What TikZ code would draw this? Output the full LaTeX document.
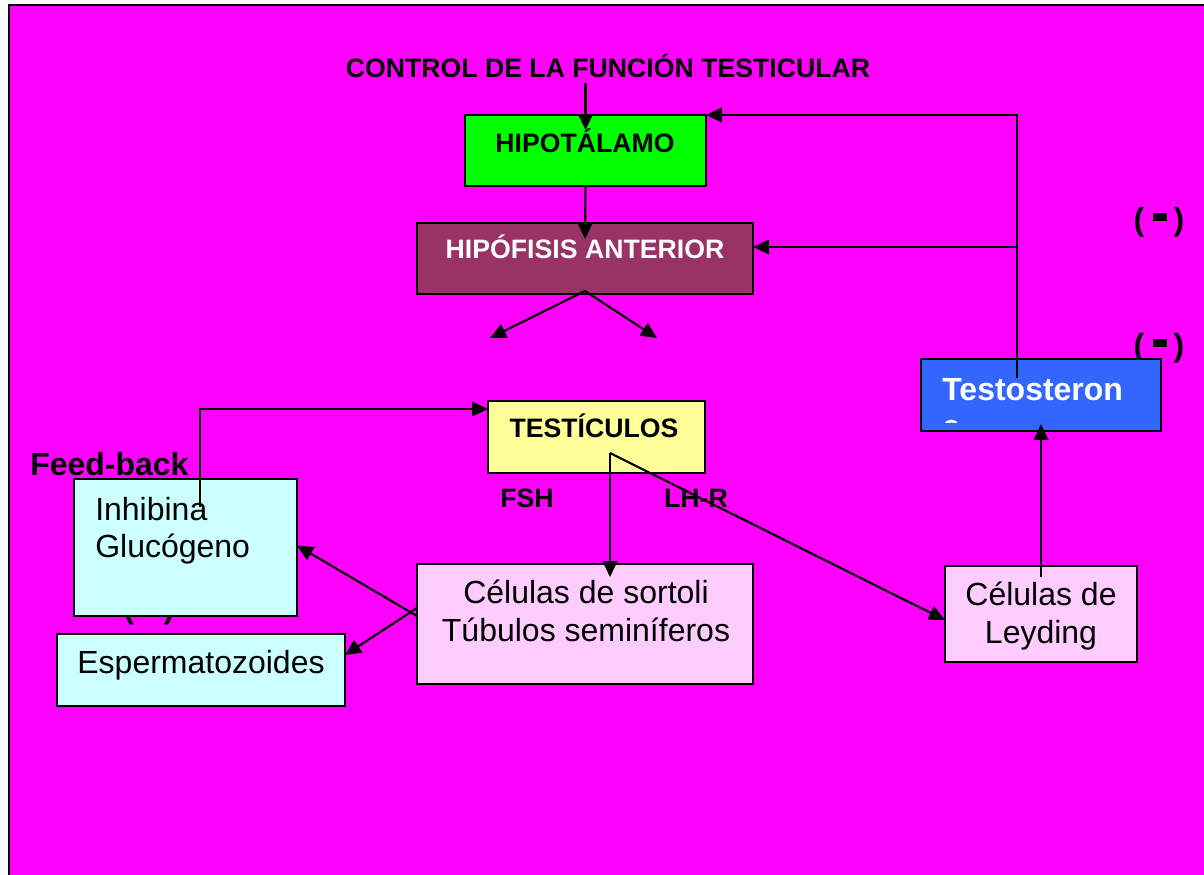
\documentclass[tikz,border=0pt]{standalone}
\usepackage{fontspec}
\setmainfont{Liberation Sans}
\usetikzlibrary{arrows.meta,calc}
\definecolor{bgmag}{HTML}{FF00FF}
\definecolor{hipgreen}{HTML}{00FF00}
\definecolor{hipofcol}{HTML}{993366}
\definecolor{testcol}{HTML}{FFFF99}
\definecolor{pinkcol}{HTML}{FFCCFF}
\definecolor{cyancol}{HTML}{CCFFFF}
\definecolor{bluecol}{HTML}{3366FF}
\newcommand{\minusmark}{(\hspace{6.5pt}\raisebox{7pt}{\rule{10.5pt}{5.5pt}}\hspace{5pt})}
\begin{document}
\begin{tikzpicture}[x=0.75pt,y=-0.75pt,
  box/.style={draw=black,line width=1.5pt,inner sep=0pt,outer sep=0pt},
  sz/.style 2 args={minimum width=#1*0.75pt,minimum height=#2*0.75pt},
  bl/.style={font=\fontsize{20}{24}\selectfont\bfseries,inner sep=0pt,anchor=base},
  bb/.style={font=\fontsize{24}{28}\selectfont\bfseries,inner sep=0pt,anchor=base},
  rt/.style={font=\fontsize{24}{28}\selectfont,inner sep=0pt,anchor=base},
  con/.style={line width=1.6pt,line join=miter},
  arr/.style={con,-{Triangle[length=12pt,width=11pt]}},
]
\useasboundingbox (0,0) rectangle (1204,875);
\fill[bgmag] (9,5) rectangle (1220,890);
\draw[line width=2pt] (9,890) -- (9,5) -- (1220,5);

% hidden / partly hidden minus marks
\node[bb] (m1) at (1159,230) {\minusmark};
\node[bb] (m2) at (1159,356) {\minusmark};
\node[bb] (m3) at (149,618) {\minusmark};

% boxes
\node[box,fill=hipgreen,sz={241}{71}] (hipo) at (585.5,150.5) {};
\node[box,fill=hipofcol,sz={336}{71}] (hipof) at (585,258.5) {};
\node[box,fill=testcol,sz={217}{72}] (tes) at (596.5,437) {};
\node[box,fill=pinkcol,sz={336}{120}] (sort) at (585,624) {};
\node[box,fill=pinkcol,sz={192}{96}] (ley) at (1041,614) {};
\node[box,fill=cyancol,sz={223}{137}] (inh) at (185.5,547.5) {};
\node[box,fill=cyancol,sz={288}{72}] (esp) at (201,670) {};
\node[box,fill=bluecol,sz={240}{72}] (testo) at (1041,395) {};

% texts
\node[bl] (title) at (608,77) {CONTROL DE LA FUNCIÓN TESTICULAR};
\node[bl] (thipo) at (585,152) {HIPOTÁLAMO};
\node[bl,text=white] (thipof) at (585,258) {HIPÓFISIS ANTERIOR};
\node[bl] (ttes) at (594,437) {TESTÍCULOS};
\node[bl] (fsh) at (527,507) {FSH};
\node[bl] (lhr) at (696,507) {LH-R};
\node[bb,anchor=base west] (fb) at (30,475) {Feed-back};
\node[rt] (s1) at (586,603) {Células de sortoli};
\node[rt] (s2) at (586,641) {Túbulos seminíferos};
\node[rt] (l1) at (1041,605) {Células de};
\node[rt] (l2) at (1041,643) {Leyding};
\node[rt,anchor=base west] (i1) at (95,520) {Inhibina};
\node[rt,anchor=base west] (i2) at (95,557) {Glucógeno};
\node[rt] (e1) at (201,673) {Espermatozoides};
\begin{scope}
\clip (923,361) rectangle (1159,422);
\node[bb,text=white,anchor=base west] (tt1) at (942,400) {Testosteron};
\node[bb,text=white,anchor=base west] (tt2) at (942,437) {e};
\end{scope}

% connectors
\draw[arr] ($(hipo.north)+(0,-32)$) -- ($(hipo.north)+(0,15)$);
\draw[arr] (hipo.south) -- ($(hipof.north)+(0,16)$);
\coordinate (hb) at ($(hipof.south)+(0,-3)$);
\coordinate (fshend) at (490,338);
\coordinate (lhend) at (657,338);
\draw[arr] (hb) -- (fshend);
\draw[arr] (hb) -- (lhend);
\coordinate (apex) at (610,453);
\draw[arr] (apex) -- ($(apex |- sort.north)+(0,13)$);
\draw[arr] (apex) -- ($(ley.west)+(0,6)$);
\draw[arr] ($(sort.west)+(0,-8)$) -- ($(inh.east)+(0,-2)$);
\draw[arr] ($(sort.west)+(0,-16)$) -- ($(esp.east)+(0,-15)$);
\coordinate (fbstart) at ($(inh.north)+(14.5,28)$);
\coordinate (fbend) at ($(tes.north west)+(0,8)$);
\draw[arr] (fbstart) |- (fbend);
\draw[arr] ($(ley.north)+(0,11)$) -- ($(testo.south)+(0,-7)$);
\coordinate (tv) at ($(testo.north)+(-24,19)$);
\coordinate (hr) at ($(hipof.east)+(0,-11.5)$);
\draw[arr] (tv) |- (hipo.north east);
\draw[arr] (tv |- hr) -- (hr);
\end{tikzpicture}
\end{document}
